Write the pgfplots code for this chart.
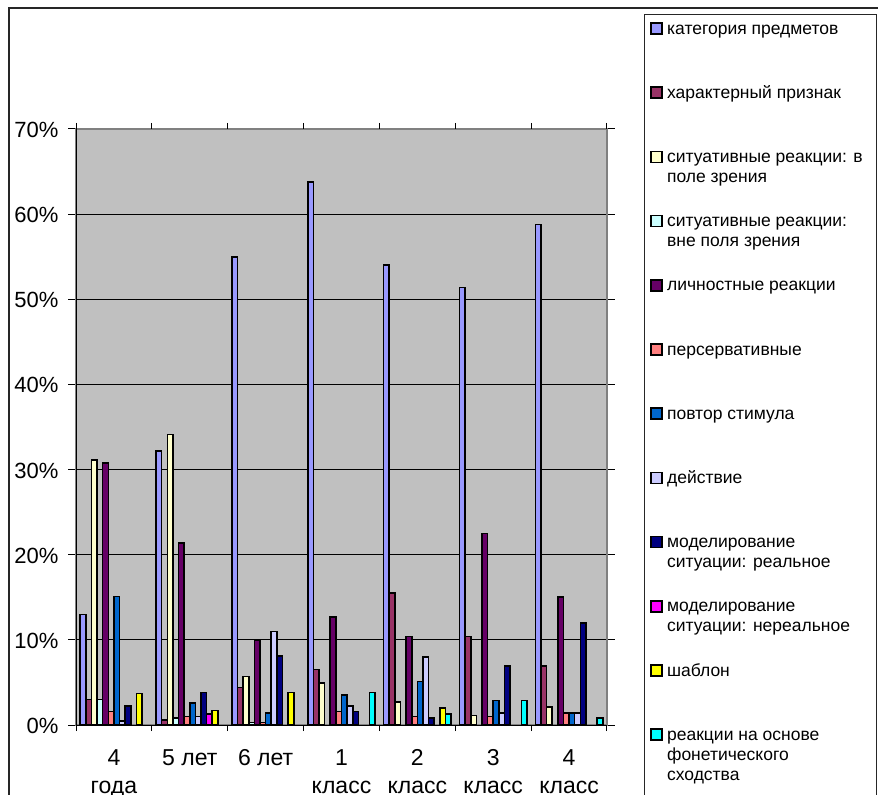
\documentclass[border=0pt]{standalone}
\usepackage{pgfplots}
\pgfplotsset{compat=1.18}
\usepackage{fontspec}
\setmainfont{Liberation Sans}
\definecolor{c1}{HTML}{9999FF}
\definecolor{c2}{HTML}{993366}
\definecolor{c3}{HTML}{FFFFCC}
\definecolor{c4}{HTML}{CCFFFF}
\definecolor{c5}{HTML}{660066}
\definecolor{c6}{HTML}{FF8080}
\definecolor{c7}{HTML}{0066CC}
\definecolor{c8}{HTML}{CCCCFF}
\definecolor{c9}{HTML}{000080}
\definecolor{c10}{HTML}{FF00FF}
\definecolor{c11}{HTML}{FFFF00}
\definecolor{c12}{HTML}{00FFFF}
\definecolor{plotgray}{HTML}{C0C0C0}
\definecolor{framegray}{HTML}{808080}
\pgfplotsset{
  sq/.style={fill=#1, draw=black, line width=1.6pt,
    legend image code/.code={\draw[fill=#1,draw=black,line width=1.6pt] (0.8pt,0pt) rectangle (11.8pt,11pt);}}
}
\newcommand{\lgd}[1]{\parbox[t]{215pt}{\raggedright #1}}
\begin{document}
\begin{tikzpicture}[x=1pt,y=1pt]
\path[use as bounding box] (0,0) rectangle (878,795);
\draw[line width=1.2pt, black!85] (9,-5) -- (9,787) -- (883,787);
\draw[line width=1pt, black!85] (644,-5) -- (644,780) -- (876,780) -- (876,-5);
\begin{axis}[
  at={(76pt,70pt)}, anchor=south west,
  width=531pt, height=596pt, scale only axis,
  axis background/.style={fill=plotgray},
  axis line style={draw=framegray, line width=1.6pt},
  ybar, bar width=0.0741,
  xmin=-0.5, xmax=6.5, ymin=0, ymax=70,
  ytick={0,10,...,70},
  yticklabels={0\%,10\%,20\%,30\%,40\%,50\%,60\%,70\%},
  ymajorgrids, grid style={black, line width=0.9pt},
  tick align=outside,
  ytick style={draw=black, line width=1pt},
  major tick length=8pt,
  yticklabel style={font=\fontsize{22}{26}\selectfont, xshift=-6pt, yshift=-1pt},
  xtick={0,...,6},
  xticklabels={{4\\года},{5 лет},{6 лет},{1\\класс},{2\\класс},{3\\класс},{4\\класс}},
  xticklabel style={font=\fontsize{23}{28}\selectfont, align=center, yshift=-13pt},
  xtick style={draw=none},
  extra x ticks={-0.5,0.5,...,6.5},
  extra x tick labels={},
  extra x tick style={xtick style={draw=black, line width=1pt}, major tick length=6pt},
  after end axis/.code={
    \draw[black, line width=1pt] (rel axis cs:0,0) -- (rel axis cs:0,1);
    \draw[black, line width=1pt] (rel axis cs:0,0) -- (rel axis cs:1,0);
  },
  legend style={draw=none, fill=none, at={(axis description cs:1.081,1.1812)}, anchor=north west,
    inner sep=0pt, outer sep=0pt, row sep=0pt, column sep=4.5pt,
    cells={anchor=base west},
    nodes={inner sep=0pt, text height=13pt, text depth=51.2pt, font=\fontsize{17.5}{20}\selectfont}},
]
\addplot[sq=c1, bar shift=-0.4074] coordinates {(0,13.0) (1,32.2) (2,55.0) (3,63.8) (4,54.0) (5,51.4) (6,58.8)};
\addplot[sq=c2, bar shift=-0.3333] coordinates {(0,3.0) (1,0.6) (2,4.4) (3,6.5) (4,15.5) (5,10.4) (6,6.9)};
\addplot[sq=c3, bar shift=-0.2593] coordinates {(0,31.1) (1,34.1) (2,5.7) (3,4.9) (4,2.7) (5,1.1) (6,2.1)};
\addplot[sq=c4, bar shift=-0.1852] coordinates {(0,3.0) (1,0.8) (2,0.3)};
\addplot[sq=c5, bar shift=-0.1111] coordinates {(0,30.8) (1,21.4) (2,10.0) (3,12.7) (4,10.4) (5,22.5) (6,15.0)};
\addplot[sq=c6, bar shift=-0.0370] coordinates {(0,1.6) (1,1.0) (2,0.3) (3,1.6) (4,1.0) (5,1.0) (6,1.4)};
\addplot[sq=c7, bar shift=0.0370] coordinates {(0,15.1) (1,2.6) (2,1.4) (3,3.5) (4,5.1) (5,2.9) (6,1.4)};
\addplot[sq=c8, bar shift=0.1111] coordinates {(0,0.5) (1,1.0) (2,11.0) (3,2.2) (4,8.0) (5,1.4) (6,1.4)};
\addplot[sq=c9, bar shift=0.1852] coordinates {(0,2.2) (1,3.8) (2,8.1) (3,1.6) (4,0.8) (5,6.9) (6,12.0)};
\addplot[sq=c10, bar shift=0.2593] coordinates {(1,1.3)};
\addplot[sq=c11, bar shift=0.3333] coordinates {(0,3.7) (1,1.7) (2,3.8) (4,2.0)};
\addplot[sq=c12, bar shift=0.4074] coordinates {(3,3.8) (4,1.3) (5,2.9) (6,0.8)};
\legend{\lgd{категория предметов},\lgd{характерный признак},\lgd{ситуативные реакции: в\\поле зрения},\lgd{ситуативные реакции:\\вне поля зрения},\lgd{личностные реакции},\lgd{персервативные},\lgd{повтор стимула},\lgd{действие},\lgd{моделирование\\ситуации: реальное},\lgd{моделирование\\ситуации: нереальное},\lgd{шаблон},\lgd{реакции на основе\\фонетического\\сходства}}
\end{axis}
\end{tikzpicture}
\end{document}
